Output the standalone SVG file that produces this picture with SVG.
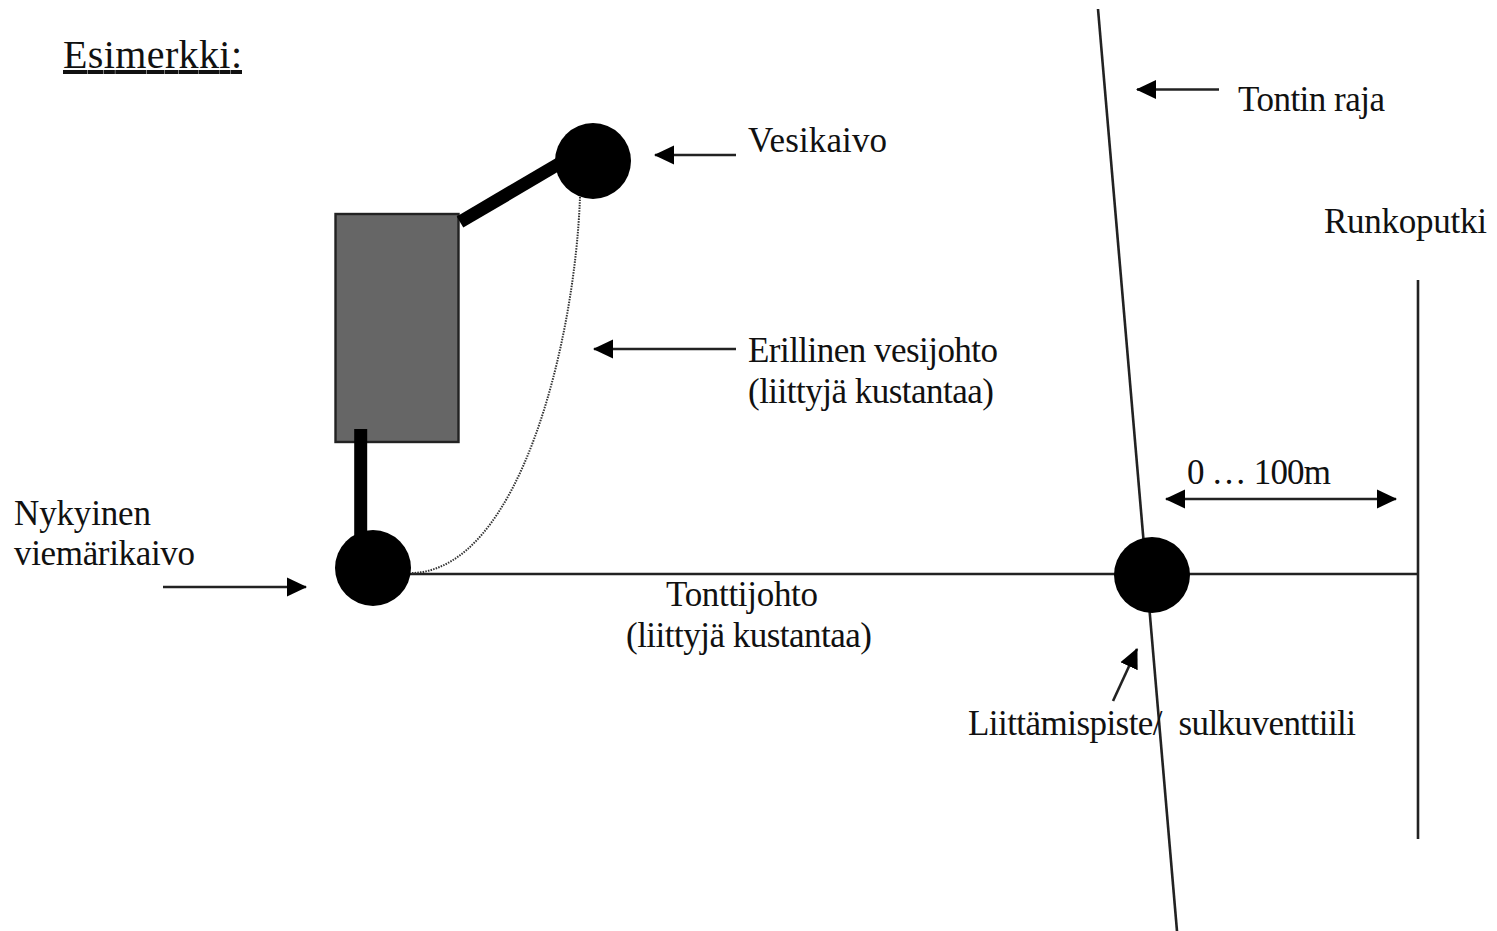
<svg xmlns="http://www.w3.org/2000/svg" width="1497" height="931" viewBox="0 0 1497 931">
<defs>
<marker id="ah" markerUnits="userSpaceOnUse" markerWidth="20" markerHeight="20" refX="19" refY="10" orient="auto-start-reverse"><path d="M0 0.500 L20 10 L0 19.500 Z" fill="#000"/></marker>
</defs>
<style>
text{font-family:"Liberation Serif","Times New Roman",serif;font-size:35px;fill:#111}
.thin{stroke:#222;stroke-width:2.6;fill:none}
.ar{stroke:#222;stroke-width:2.6;fill:none;marker-end:url(#ah)}
.thick{stroke:#000;stroke-width:13;fill:none}
</style>
<rect width="1497" height="931" fill="#fff"/>
<g id="building"><rect x="335.500" y="214" width="123" height="228" fill="#666" stroke="#222" stroke-width="2.400"/></g>
<g id="connectors">
<path class="thin" d="M1098 9 L1177 931"/>
<path class="thin" d="M1418 280 V839"/>
<path class="thin" d="M373 574 H1418"/>
<path d="M580 197 C575 340 520 570 412 573" fill="none" stroke="#333" stroke-width="2" stroke-dasharray="1.500 1.200"/>
<path class="thick" d="M460 222 L562 162"/>
<path class="thick" d="M360.700 429 V540"/>
<path class="ar" d="M1219 89.500 H1137"/>
<path class="ar" d="M736 155 H655"/>
<path class="ar" d="M736 349 H594"/>
<path class="ar" d="M163 587 H306"/>
<path class="ar" d="M1113 701 L1137 649"/>
<path class="ar" d="M1166 499 H1396" marker-start="url(#ah)"/>
</g>
<g id="vesikaivo"><circle cx="593" cy="161" r="38" fill="#000"/></g>
<g id="viemarikaivo"><circle cx="373" cy="568" r="38" fill="#000"/></g>
<g id="liittamispiste"><circle cx="1152" cy="575" r="38" fill="#000"/></g>
<g id="labels">
<text x="63" y="68" style="font-size:40px" text-decoration="underline" textLength="179">Esimerkki:</text>
<text x="748" y="152" textLength="139">Vesikaivo</text>
<text x="1238" y="111" textLength="147">Tontin raja</text>
<text x="1324" y="233" textLength="163">Runkoputki</text>
<text x="748" y="362" textLength="250">Erillinen vesijohto</text>
<text x="748" y="403" textLength="246">(liittyjä kustantaa)</text>
<text x="1187" y="484" textLength="144">0 … 100m</text>
<text x="14" y="525" textLength="137">Nykyinen</text>
<text x="14" y="565" textLength="181">viemärikaivo</text>
<text x="666" y="606" textLength="152">Tonttijohto</text>
<text x="626" y="647" textLength="246">(liittyjä kustantaa)</text>
<text x="968" y="735" textLength="388" xml:space="preserve">Liittämispiste/  sulkuventtiili</text>
</g>
</svg>
